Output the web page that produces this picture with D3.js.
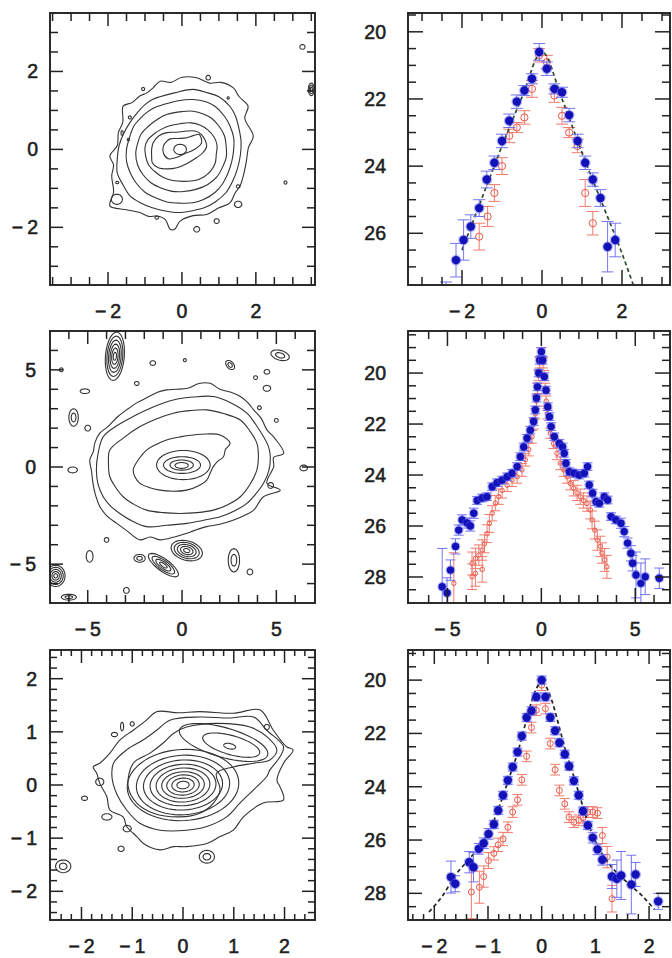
<!DOCTYPE html>
<html><head><meta charset="utf-8">
<script src="https://cdn.jsdelivr.net/npm/d3@7/dist/d3.min.js"></script>
<style>
body{margin:0;background:#fff}
svg{display:block}
text{font-family:"Liberation Sans",Arial,sans-serif;font-size:19.5px;fill:#1e1e1e;stroke:#1e1e1e;stroke-width:0.55}
</style></head>
<body><svg id="c" width="672" height="958"></svg>
<script>
// ================= DATA =================
// ---- tick labels ----
const mapTicksA = [-2, 0, 2];
const mapTicksB = [-5, 0, 5];
const mapTicksC = [-2, -1, 0, 1, 2];
const profXTicksA = [-2, 0, 2];
const profXTicksB = [-5, 0, 5];
const profXTicksC = [-2, -1, 0, 1, 2];
const profYTicksA = [20, 22, 24, 26];
const profYTicksB = [20, 22, 24, 26, 28];
const profYTicksC = [20, 22, 24, 26, 28];

// ---- galaxy A (top) isophotes, [x, y] ----
const galA_contours = [
 [[-0.59,1.75],[-0.3,1.72],[0.0,1.85],[0.4,1.84],[0.75,1.7],[1.05,1.72],[1.39,1.58],[1.55,1.35],[1.79,1.11],[1.7,0.8],[1.93,0.34],[1.8,0.05],[1.75,-0.26],[1.68,-0.6],[1.57,-0.94],[1.45,-1.1],[1.3,-1.37],[1.0,-1.5],[0.67,-1.67],[0.3,-1.7],[-0.05,-1.84],[-0.2,-2.05],[-0.32,-2.05],[-0.45,-1.8],[-0.68,-1.71],[-0.9,-1.72],[-1.14,-1.62],[-1.5,-1.55],[-1.95,-1.45],[-1.85,-1.1],[-1.9,-0.68],[-1.85,-0.4],[-1.95,-0.17],[-1.75,0.1],[-1.72,0.43],[-1.6,0.7],[-1.59,1.11],[-1.35,1.2],[-1.14,1.37],[-0.95,1.45],[-0.78,1.58]],
 [[-0.6,1.35],[-0.2,1.45],[0.3,1.54],[0.7,1.45],[1.0,1.35],[1.3,1.1],[1.45,0.85],[1.55,0.5],[1.6,0.2],[1.58,-0.15],[1.5,-0.5],[1.38,-0.8],[1.2,-1.1],[0.9,-1.35],[0.6,-1.5],[0.25,-1.58],[-0.1,-1.62],[-0.45,-1.58],[-0.8,-1.5],[-1.1,-1.38],[-1.4,-1.2],[-1.6,-0.9],[-1.75,-0.6],[-1.75,-0.25],[-1.7,0.1],[-1.58,0.4],[-1.4,0.7],[-1.2,0.95],[-1.0,1.15],[-0.8,1.28]],
 [[-0.5,1.15],[-0.1,1.25],[0.3,1.28],[0.65,1.22],[0.9,1.1],[1.15,0.85],[1.3,0.6],[1.4,0.3],[1.4,0.0],[1.35,-0.3],[1.25,-0.6],[1.1,-0.88],[0.9,-1.1],[0.6,-1.28],[0.3,-1.37],[-0.05,-1.38],[-0.4,-1.35],[-0.7,-1.25],[-1.0,-1.1],[-1.25,-0.85],[-1.4,-0.6],[-1.5,-0.3],[-1.5,0.0],[-1.42,0.3],[-1.3,0.6],[-1.1,0.82],[-0.95,0.95],[-0.75,1.07]],
 [[-0.4,0.9],[0.0,0.97],[0.3,0.98],[0.6,0.9],[0.8,0.8],[1.0,0.6],[1.15,0.35],[1.2,0.05],[1.2,-0.2],[1.1,-0.45],[0.95,-0.7],[0.7,-0.9],[0.4,-1.02],[0.05,-1.08],[-0.3,-1.07],[-0.6,-0.98],[-0.85,-0.85],[-1.05,-0.65],[-1.2,-0.4],[-1.25,-0.1],[-1.2,0.15],[-1.1,0.4],[-0.9,0.6],[-0.65,0.78]],
 [[-0.35,0.6],[-0.05,0.66],[0.25,0.68],[0.5,0.62],[0.7,0.5],[0.88,0.3],[0.95,0.1],[0.93,-0.12],[0.9,-0.35],[0.78,-0.55],[0.6,-0.7],[0.35,-0.8],[0.05,-0.82],[-0.25,-0.8],[-0.5,-0.72],[-0.72,-0.58],[-0.9,-0.4],[-0.98,-0.18],[-1.0,0.05],[-0.92,0.25],[-0.75,0.4],[-0.55,0.52]],
 [[-0.78,0.17],[-0.62,0.35],[-0.41,0.43],[-0.15,0.44],[0.13,0.47],[0.35,0.47],[0.53,0.38],[0.67,0.09],[0.57,-0.08],[0.4,-0.21],[0.14,-0.36],[-0.14,-0.47],[-0.4,-0.5],[-0.64,-0.47],[-0.8,-0.35],[-0.82,-0.17],[-0.82,0.0]],
 [[-0.5,0.09],[-0.42,0.2],[-0.32,0.27],[-0.1,0.28],[0.13,0.3],[0.32,0.36],[0.47,0.38],[0.53,0.17],[0.42,0.05],[0.26,-0.04],[0.1,-0.1],[-0.05,-0.17],[-0.2,-0.22],[-0.37,-0.24],[-0.5,-0.1]]
];
// ellipses: [cx, cy, rx, ry, angleDeg]
const galA_ellipses = [[-0.05,0.0,0.17,0.13,0]];
// small sources: [cx, cy, rx, ry, angleDeg, levels]
const galA_blobs = [
 [-1.76,-1.28,0.15,0.13,0,1],[1.52,-1.41,0.1,0.08,0,1],[0.94,-1.84,0.07,0.06,0,1],[0.4,-2.05,0.08,0.07,0,1],
 [0.71,1.84,0.06,0.06,0,1],[3.26,2.63,0.07,0.06,0,1],[-0.68,-1.75,0.05,0.04,0,1],[1.52,-0.95,0.05,0.04,0,1],
 [3.5,1.54,0.08,0.16,0,3],[-1.41,0.82,0.04,0.04,0,1],[-1.75,-0.85,0.04,0.03,0,1],[2.8,-0.85,0.04,0.04,0,1],
 [-1.62,0.42,0.03,0.06,0,1],[-1.45,0.25,0.03,0.03,0,1],[1.25,1.32,0.03,0.03,0,1],[-1.05,1.55,0.04,0.04,0,1]
];

// ---- galaxy B (middle) ----
const galB_contours = [
 [[-4.63,1.22],[-4.36,1.74],[-3.9,2.1],[-3.4,2.6],[-2.94,2.94],[-2.4,3.3],[-1.8,3.6],[-1.3,3.85],[-0.82,3.97],[-0.3,4.0],[0.3,4.05],[0.9,4.3],[1.49,4.31],[2.0,4.0],[2.6,3.85],[3.09,3.63],[3.5,3.3],[3.8,2.94],[4.2,2.5],[4.5,1.91],[4.9,1.5],[5.39,0.7],[4.86,0.5],[4.86,0.02],[4.5,-0.84],[5.21,-1.19],[4.32,-1.53],[3.8,-2.22],[3.3,-2.5],[2.74,-2.73],[2.0,-2.95],[1.31,-3.07],[0.7,-3.25],[0.25,-3.41],[-0.4,-3.6],[-1.17,-3.75],[-1.7,-3.6],[-2.23,-3.75],[-2.9,-3.3],[-3.48,-2.89],[-4.0,-2.5],[-4.36,-2.03],[-4.6,-1.4],[-4.72,-0.84],[-4.8,-0.2],[-4.89,0.36],[-4.7,0.8]],
 [[-4.18,1.56],[-3.5,2.1],[-2.59,2.6],[-1.5,3.1],[-0.46,3.45],[0.6,3.6],[1.66,3.63],[2.6,3.3],[3.44,2.77],[3.9,2.2],[4.32,1.56],[4.6,1.0],[4.68,0.53],[4.6,-0.2],[4.32,-0.84],[3.9,-1.4],[3.44,-1.87],[2.8,-2.25],[2.02,-2.56],[1.1,-2.75],[0.25,-2.9],[-0.8,-3.0],[-1.88,-3.07],[-2.6,-2.8],[-3.3,-2.39],[-3.8,-2.0],[-4.18,-1.53],[-4.45,-0.9],[-4.54,-0.15],[-4.45,0.7]],
 [[-3.83,0.87],[-3.1,1.5],[-2.23,2.08],[-1.3,2.5],[-0.46,2.77],[0.4,2.9],[1.31,2.94],[2.2,2.75],[3.09,2.42],[3.6,1.85],[3.97,1.22],[4.05,0.5],[3.97,-0.15],[3.6,-0.9],[3.09,-1.53],[2.4,-1.95],[1.66,-2.22],[0.8,-2.35],[-0.11,-2.39],[-1.0,-2.35],[-1.88,-2.22],[-2.5,-1.95],[-3.12,-1.53],[-3.55,-1.0],[-3.83,-0.5],[-3.9,0.2]],
 [[-2.59,-0.15],[-2.3,0.4],[-1.88,0.87],[-1.4,1.15],[-0.82,1.39],[-0.1,1.55],[0.6,1.65],[1.3,1.7],[2.02,1.65],[2.55,1.22],[2.3,0.9],[2.2,0.53],[1.9,0.3],[1.66,0.02],[1.5,-0.3],[1.31,-0.67],[0.8,-1.0],[0.25,-1.19],[-0.5,-1.25],[-1.17,-1.19],[-1.75,-1.05],[-2.23,-0.84],[-2.5,-0.5]]
];
const galB_ellipses = [[0.07,0.1,1.42,0.75,0],[0.0,0.1,0.98,0.43,0],[-0.02,0.1,0.62,0.26,0],[-0.02,0.08,0.35,0.15,0]];
const galB_blobs = [
 [-3.56,5.7,0.5,1.25,-5,6],[0.25,-4.3,0.85,0.5,-15,5],[-0.99,-5.05,0.95,0.32,-35,4],[-6.7,-5.6,0.5,0.55,0,5],
 [5.2,5.75,0.5,0.25,-15,2],[2.55,5.25,0.28,0.18,-45,2],[2.75,-4.8,0.3,0.6,0,2],[-5.75,2.55,0.25,0.45,0,2],
 [-2.25,-4.7,0.3,0.2,0,2],[-4.9,-4.6,0.18,0.3,0,1],[4.5,4.05,0.2,0.15,0,1],[4.5,4.9,0.15,0.12,0,1],
 [-5.8,-0.15,0.25,0.15,0,1],[-2.95,-6.35,0.15,0.15,0,1],[6.45,-0.05,0.2,0.15,0,1],[3.6,-5.4,0.15,0.15,0,1],
 [-1.55,5.35,0.15,0.12,0,1],[-5.15,3.9,0.25,0.12,0,1],[-5.0,2.0,0.15,0.15,0,1],[4.7,-0.95,0.15,0.15,0,1],
 [-4.0,-3.75,0.12,0.12,0,1],[5.0,2.4,0.1,0.1,0,1],[-6.4,5.0,0.1,0.1,0,1],[0.15,5.5,0.08,0.08,0,1],
 [-2.4,4.3,0.12,0.1,0,1],[3.9,4.6,0.1,0.1,0,1],[-6.0,-6.7,0.4,0.15,0,2],[4.1,3.05,0.1,0.1,0,1]
];

// ---- galaxy C (bottom) ----
const galC_contours = [
 [[-1.77,0.34],[-1.64,0.41],[-1.44,0.6],[-1.24,0.85],[-0.98,1.03],[-0.72,1.22],[-0.52,1.38],[-0.1,1.36],[0.33,1.38],[0.99,1.35],[1.52,1.41],[1.78,1.03],[2.04,0.72],[2.17,0.66],[1.98,0.41],[1.85,0.09],[1.91,-0.03],[1.98,-0.28],[1.58,-0.34],[1.19,-0.6],[0.99,-0.85],[0.73,-0.97],[0.47,-1.1],[0.07,-1.16],[-0.19,-1.16],[-0.45,-1.22],[-0.78,-1.1],[-0.91,-0.97],[-1.11,-0.78],[-1.18,-0.6],[-1.44,-0.47],[-1.5,-0.22],[-1.64,0.03],[-1.7,0.22]],
 [[-1.37,0.41],[-1.11,0.66],[-0.78,0.85],[-0.52,1.03],[-0.26,1.22],[0.33,1.28],[0.9,1.26],[1.39,1.28],[1.65,1.03],[1.98,0.72],[1.91,0.53],[1.71,0.28],[1.65,0.16],[1.39,-0.09],[1.12,-0.34],[0.86,-0.6],[0.47,-0.78],[0.07,-0.85],[-0.45,-0.85],[-0.85,-0.72],[-1.11,-0.47],[-1.31,-0.16],[-1.4,0.16]],
 [[-0.98,0.41],[-0.65,0.6],[-0.39,0.79],[-0.19,0.97],[0.07,1.09],[0.66,1.16],[1.32,1.09],[1.65,0.91],[1.85,0.66],[1.71,0.47],[1.39,0.41],[0.99,0.34],[0.66,0.22],[0.73,-0.09],[0.6,-0.34],[0.33,-0.53],[-0.06,-0.6],[-0.58,-0.53],[-0.91,-0.34],[-1.08,-0.03]]
];
const galC_ellipses = [
 [0,0,0.12,0.07,3],[0,0,0.22,0.13,3],[0,0,0.32,0.19,3],[0,0,0.42,0.25,3],[0,0,0.53,0.32,3],
 [0,0,0.65,0.39,3],[0,0,0.78,0.47,3],[0,0,0.92,0.56,3],[0,0,1.1,0.67,3],
 [0.92,0.73,0.12,0.05,-12],[0.95,0.75,0.58,0.18,-15],[0.8,0.8,0.9,0.28,-15]
];
const galC_blobs = [
 [0.47,-1.35,0.15,0.12,0,2],[-2.36,-1.53,0.15,0.12,0,2],[-1.64,0.06,0.08,0.07,0,1],[-1.94,-0.25,0.06,0.04,0,1],
 [-1.5,-0.6,0.1,0.06,0,1],[-1.1,-0.82,0.08,0.06,0,1],[1.65,1.09,0.05,0.05,0,1],[-1.22,-1.2,0.06,0.05,0,1],
 [-1.2,1.1,0.03,0.08,0,1],[-1.35,0.95,0.06,0.04,0,1],[-1.0,1.15,0.04,0.04,0,1]
];

// ---- surface brightness profiles: [r, mu, err] ----
const profA_blue = [[-2.4,27.9,0.45],[-2.15,26.8,0.5],[-1.96,26.2,0.6],[-1.78,25.8,0.35],[-1.57,25.25,0.25],[-1.38,24.4,0.25],[-1.19,23.9,0.2],[-1.0,23.25,0.2],[-0.82,22.65,0.2],[-0.63,22.08,0.2],[-0.44,21.75,0.15],[-0.25,21.4,0.15],[-0.07,20.6,0.25],[0.12,21.1,0.2],[0.31,21.7,0.15],[0.5,21.8,0.15],[0.68,22.48,0.2],[0.89,23.25,0.2],[1.08,23.9,0.2],[1.27,24.4,0.2],[1.46,24.95,0.25],[1.64,26.4,0.75],[1.83,26.2,0.5]];
const profA_red = [[-1.57,26.1,0.4],[-1.36,25.5,0.3],[-1.19,24.8,0.25],[-1.0,24.0,0.25],[-0.82,23.1,0.2],[-0.63,22.85,0.15],[-0.44,22.55,0.2],[-0.25,21.7,0.25],[-0.07,20.7,0.2],[0.12,20.9,0.2],[0.31,21.9,0.2],[0.5,22.5,0.25],[0.68,23.0,0.15],[0.89,23.4,0.2],[1.08,24.8,0.4],[1.27,25.7,0.35]];
const profA_model = [[-2.0,26.5],[-1.5,24.95],[-1.0,23.4],[-0.5,21.95],[0,20.6],[0.5,22.0],[1.0,23.6],[1.5,25.1],[2.0,26.6],[2.3,27.6]];

const profB_blue = [[-5.28,28.38,1.5],[-5.02,28.63,0.6],[-4.84,27.73,0.4],[-4.57,26.8,0.3],[-4.4,26.16,0.2],[-4.22,25.76,0.2],[-3.95,25.88,0.2],[-3.78,26.0,0.2],[-3.6,25.5,0.2],[-3.42,25.0,0.15],[-3.15,24.9,0.15],[-2.89,24.85,0.15],[-2.62,24.46,0.15],[-2.36,24.3,0.15],[-2.09,24.2,0.15],[-1.82,24.07,0.15],[-1.56,23.93,0.15],[-1.29,23.67,0.15],[-1.12,23.28,0.15],[-0.94,22.9,0.15],[-0.76,22.56,0.15],[-0.59,22.24,0.15],[-0.41,21.9,0.15],[-0.32,21.45,0.15],[-0.26,20.98,0.15],[-0.21,20.54,0.15],[-0.14,20.0,0.15],[-0.09,19.5,0.15],[0.0,19.16,0.15],[0.07,19.5,0.15],[0.16,20.14,0.15],[0.25,20.67,0.15],[0.34,21.32,0.15],[0.43,21.71,0.15],[0.52,22.1,0.15],[0.69,22.5,0.15],[0.96,22.76,0.15],[1.13,22.9,0.15],[1.22,23.15,0.15],[1.31,23.54,0.15],[1.49,23.87,0.15],[1.76,23.93,0.15],[2.02,24.0,0.15],[2.29,23.93,0.15],[2.46,23.67,0.15],[2.55,24.39,0.15],[2.73,24.71,0.15],[2.91,25.05,0.15],[3.09,25.11,0.15],[3.35,24.85,0.15],[3.53,24.98,0.15],[3.71,25.63,0.15],[3.97,25.76,0.15],[4.24,25.89,0.2],[4.41,26.22,0.2],[4.59,26.67,0.2],[4.77,27.07,0.3],[4.86,27.46,0.3],[5.04,27.92,0.9],[5.3,28.25,0.8],[5.53,27.99,0.7],[6.28,28.05,0.4]];
const profB_red = [[0.0,19.2,0.2],[-0.09,19.6,0.2],[0.09,19.6,0.2],[-0.15,20.1,0.2],[0.15,20.1,0.2],[-0.2,20.6,0.2],[0.2,20.6,0.2],[-0.26,21.1,0.2],[0.26,21.1,0.2],[-0.32,21.6,0.2],[0.32,21.6,0.2],[-0.41,22.0,0.2],[-0.5,22.5,0.25],[-0.67,23.0,0.25],[-0.85,23.4,0.25],[-1.03,23.8,0.25],[-1.29,24.07,0.25],[-1.56,24.2,0.25],[-1.82,24.4,0.25],[-2.09,24.6,0.3],[-2.27,24.85,0.3],[-2.45,25.1,0.3],[-2.62,25.5,0.3],[-2.77,25.9,0.35],[-2.89,26.3,0.35],[-3.03,26.7,0.35],[-3.15,26.94,0.4],[-3.33,27.14,0.4],[-3.51,27.27,0.4],[-3.69,27.47,0.45],[-3.51,27.86,0.5],[-3.69,27.99,0.5],[-3.15,27.7,0.5],[-4.66,28.25,1.2],[0.48,22.36,0.2],[0.65,22.76,0.2],[0.83,23.15,0.25],[1.01,23.54,0.25],[1.19,23.8,0.25],[1.37,24.07,0.25],[1.54,24.33,0.25],[1.72,24.52,0.3],[1.9,24.7,0.3],[2.07,24.85,0.3],[2.25,25.0,0.3],[2.43,25.12,0.3],[2.61,25.37,0.35],[2.7,25.76,0.35],[2.84,26.16,0.35],[2.98,26.55,0.4],[3.14,26.8,0.4],[3.23,27.06,0.4],[3.37,27.33,0.45],[3.49,27.6,0.45]];

const profC_blue = [[-1.69,27.39,0.6],[-1.61,27.64,0.3],[-1.35,26.83,0.4],[-1.27,27.02,0.55],[-1.17,26.33,0.2],[-1.08,26.12,0.2],[-0.99,25.77,0.2],[-0.89,25.41,0.15],[-0.81,24.89,0.15],[-0.72,24.32,0.15],[-0.63,23.76,0.15],[-0.54,23.26,0.15],[-0.45,22.7,0.15],[-0.37,22.1,0.15],[-0.28,21.4,0.15],[-0.19,21.15,0.15],[-0.1,20.63,0.15],[0.0,20.0,0.15],[0.07,20.63,0.15],[0.16,21.4,0.15],[0.25,21.9,0.15],[0.33,22.35,0.15],[0.43,22.78,0.15],[0.51,23.23,0.15],[0.6,23.78,0.15],[0.69,24.32,0.15],[0.77,24.91,0.15],[0.86,25.45,0.15],[0.95,25.91,0.2],[1.04,26.35,0.2],[1.13,26.74,0.2],[1.31,27.37,0.45],[1.4,27.45,0.7],[1.48,27.33,0.9],[1.67,27.67,1.1],[1.75,27.29,0.45],[2.17,28.3,0.3]];
const profC_red = [[-1.31,27.95,1.0],[-1.16,27.77,0.6],[-1.08,27.37,0.4],[-0.99,26.77,0.3],[-0.89,26.5,0.25],[-0.81,26.18,0.25],[-0.72,25.96,0.25],[-0.63,25.52,0.2],[-0.54,24.95,0.2],[-0.45,24.49,0.2],[-0.37,23.74,0.2],[-0.28,22.86,0.2],[-0.19,21.78,0.2],[-0.1,21.13,0.2],[0.0,20.19,0.2],[0.07,21.07,0.2],[0.16,22.38,0.2],[0.25,23.36,0.2],[0.33,24.14,0.2],[0.43,24.64,0.2],[0.51,25.14,0.2],[0.6,25.33,0.2],[0.69,25.26,0.2],[0.77,25.16,0.2],[0.86,24.95,0.2],[0.95,24.95,0.2],[1.04,24.99,0.2],[1.13,25.83,0.3],[1.22,26.64,0.4],[1.31,28.2,0.5]];
const profC_model = [[-2.1,28.7],[-1.85,28.1],[-1.6,27.3],[-1.3,26.6],[-1.0,25.75],[-0.5,23.05],[0,20.1],[0.5,23.0],[1.0,26.05],[1.3,27.0],[1.6,27.6],[1.85,28.05],[2.1,28.6]];

// ================= DRAWING =================
const svg = d3.select("#c");
const defs = svg.append("defs");
let clipId = 0;

function makeFrame(cfg) {
  const x = d3.scaleLinear().domain(cfg.xDom).range([cfg.x0, cfg.x1]);
  const y = d3.scaleLinear().domain(cfg.yDom).range(cfg.yInvert ? [cfg.y0, cfg.y1] : [cfg.y1, cfg.y0]);
  const id = "clip" + (clipId++);
  defs.append("clipPath").attr("id", id).append("rect")
    .attr("x", cfg.x0).attr("y", cfg.y0).attr("width", cfg.x1 - cfg.x0).attr("height", cfg.y1 - cfg.y0);
  const g = svg.append("g");
  const inner = g.append("g").attr("clip-path", `url(#${id})`);
  return {x, y, g, inner, cfg};
}

function drawAxes(P, xLabels, yLabels, xMinor, yMinor, labelGap) {
  const {x, y, g, cfg} = P;
  const tg = g.append("g").attr("stroke", "#222").attr("stroke-width", 1.5);
  const eps = 1e-6;
  const isMajor = (v, list) => list.some(m => Math.abs(m - v) < 1e-6);
  const xd = x.domain(), yd = y.domain();
  const xs = d3.range(Math.ceil(Math.min(...xd) / xMinor - eps) * xMinor, Math.max(...xd) + eps, xMinor);
  const ys = d3.range(Math.ceil(Math.min(...yd) / yMinor - eps) * yMinor, Math.max(...yd) + eps, yMinor);
  xs.forEach(v => {
    const L = isMajor(v, xLabels) ? cfg.majLen : cfg.minLenX;
    const px = x(v);
    if (px < cfg.x0 + 2 || px > cfg.x1 - 1) return;
    tg.append("line").attr("x1", px).attr("x2", px).attr("y1", cfg.y1).attr("y2", cfg.y1 - L);
    tg.append("line").attr("x1", px).attr("x2", px).attr("y1", cfg.y0).attr("y2", cfg.y0 + L);
  });
  ys.forEach(v => {
    const L = isMajor(v, yLabels) ? cfg.majLen : cfg.minLenY;
    const py = y(v);
    if (py < cfg.y0 + 2 || py > cfg.y1 - 2) return;
    tg.append("line").attr("x1", cfg.x0).attr("x2", cfg.x0 + L).attr("y1", py).attr("y2", py);
    tg.append("line").attr("x1", cfg.x1).attr("x2", cfg.x1 - L).attr("y1", py).attr("y2", py);
  });
  g.append("rect").attr("x", cfg.x0).attr("y", cfg.y0)
    .attr("width", cfg.x1 - cfg.x0).attr("height", cfg.y1 - cfg.y0)
    .attr("fill", "none").attr("stroke", "#222").attr("stroke-width", 1.9);
  const fmt = v => (v < 0 ? "\u2212\u2009" : "") + Math.abs(v);
  g.selectAll(null).data(xLabels).enter().append("text")
    .attr("x", d => x(d)).attr("y", cfg.y1 + 33).attr("text-anchor", "middle").text(fmt);
  g.selectAll(null).data(yLabels).enter().append("text")
    .attr("x", cfg.x0 - labelGap).attr("y", d => y(d)).attr("dy", "0.36em")
    .attr("text-anchor", "end").text(fmt);
}

function ellipsePts(cx, cy, rx, ry, ang, n) {
  const a = ang * Math.PI / 180, pts = [];
  for (let i = 0; i < n; i++) {
    const t = 2 * Math.PI * i / n, ex = rx * Math.cos(t), ey = ry * Math.sin(t);
    pts.push([cx + ex * Math.cos(a) - ey * Math.sin(a), cy + ex * Math.sin(a) + ey * Math.cos(a)]);
  }
  return pts;
}

function drawMap(P, contours, ellipses, blobs) {
  const {x, y, inner} = P;
  const lineC = d3.line().x(d => x(d[0])).y(d => y(d[1])).curve(d3.curveCatmullRomClosed.alpha(0.5));
  const lineE = d3.line().x(d => x(d[0])).y(d => y(d[1])).curve(d3.curveLinearClosed);
  const cg = inner.append("g").attr("fill", "none").attr("stroke", "#333").attr("stroke-width", 1.1);
  contours.forEach(c => cg.append("path").attr("d", lineC(c)));
  ellipses.forEach(e => cg.append("path").attr("d", lineE(ellipsePts(e[0], e[1], e[2], e[3], e[4], 60))));
  blobs.forEach(b => {
    for (let k = 0; k < b[5]; k++) {
      const f = (k + 1) / b[5];
      cg.append("path").attr("d", lineE(ellipsePts(b[0], b[1], b[2] * f, b[3] * f, b[4], 28)));
    }
  });
}

function drawProfile(P, blue, red, model, st) {
  const {x, y, inner} = P;
  const rg = inner.append("g");
  red.forEach(d => {
    const px = x(d[0]), y1 = y(d[1] - d[2]), y2 = y(d[1] + d[2]);
    rg.append("line").attr("x1", px).attr("x2", px).attr("y1", y1).attr("y2", y2).attr("stroke", "#f27a6c").attr("stroke-width", 1);
    [y1, y2].forEach(yy => rg.append("line").attr("x1", px - st.capR).attr("x2", px + st.capR).attr("y1", yy).attr("y2", yy).attr("stroke", "#f27a6c").attr("stroke-width", 1));
    rg.append("circle").attr("cx", px).attr("cy", y(d[1])).attr("r", st.rr).attr("fill", "none").attr("stroke", "#e8584a").attr("stroke-width", 1);
  });
  if (model) {
    const ml = d3.line().x(d => x(d[0])).y(d => y(d[1])).curve(d3.curveMonotoneX);
    inner.append("path").attr("d", ml(model)).attr("fill", "none")
      .attr("stroke", st.modelColor).attr("stroke-width", 1.7).attr("stroke-dasharray", "4,3");
  }
  const bg = inner.append("g");
  blue.forEach(d => {
    const px = x(d[0]), y1 = y(d[1] - d[2]), y2 = y(d[1] + d[2]);
    bg.append("line").attr("x1", px).attr("x2", px).attr("y1", y1).attr("y2", y2).attr("stroke", "#7474f2").attr("stroke-width", 1);
    [y1, y2].forEach(yy => bg.append("line").attr("x1", px - st.capB).attr("x2", px + st.capB).attr("y1", yy).attr("y2", yy).attr("stroke", "#7474f2").attr("stroke-width", 1));
  });
  blue.forEach(d => {
    bg.append("circle").attr("cx", x(d[0])).attr("cy", y(d[1])).attr("r", st.br + 1.2).attr("fill", "#5a5af0").attr("opacity", 0.45);
    bg.append("circle").attr("cx", x(d[0])).attr("cy", y(d[1])).attr("r", st.br).attr("fill", "#1212b8");
  });
}

// layout
const LX0 = 50, LX1 = 315, RX0 = 408, RX1 = 670;
const rows = [[13, 285], [331, 603], [650, 920]];

// Row 1
const m1 = makeFrame({x0: LX0, x1: LX1, y0: rows[0][0], y1: rows[0][1], xDom: [-3.57, 3.6], yDom: [-3.48, 3.5], majLen: 13, minLenX: 8, minLenY: 8});
drawMap(m1, galA_contours, galA_ellipses, galA_blobs);
drawAxes(m1, mapTicksA, mapTicksA, 0.5, 0.5, 12);

const p1 = makeFrame({x0: RX0, x1: RX1, y0: rows[0][0], y1: rows[0][1], xDom: [-3.35, 3.2], yDom: [19.44, 27.54], yInvert: true, majLen: 15, minLenX: 8, minLenY: 8});
drawProfile(p1, profA_blue, profA_red, profA_model, {capR: 6, capB: 6, rr: 3.6, br: 4.2, modelColor: "#2d4a2d"});
drawAxes(p1, profXTicksA, profYTicksA, 0.5, 0.5, 22);

// Row 2
const m2 = makeFrame({x0: LX0, x1: LX1, y0: rows[1][0], y1: rows[1][1], xDom: [-7, 7.05], yDom: [-7, 7], majLen: 13, minLenX: 8, minLenY: 8});
drawMap(m2, galB_contours, galB_ellipses, galB_blobs);
drawAxes(m2, mapTicksB, mapTicksB, 1, 1, 14);

const p2 = makeFrame({x0: RX0, x1: RX1, y0: rows[1][0], y1: rows[1][1], xDom: [-7.1, 6.85], yDom: [18.35, 29.02], yInvert: true, majLen: 15, minLenX: 8, minLenY: 8});
drawProfile(p2, profB_blue, profB_red, null, {capR: 5, capB: 5, rr: 2.2, br: 3.7, modelColor: "#222"});
drawAxes(p2, profXTicksB, profYTicksB, 1, 0.5, 22);

// Row 3
const m3 = makeFrame({x0: LX0, x1: LX1, y0: rows[2][0], y1: rows[2][1], xDom: [-2.62, 2.6], yDom: [-2.54, 2.54], majLen: 13, minLenX: 6, minLenY: 7});
drawMap(m3, galC_contours, galC_ellipses, galC_blobs);
drawAxes(m3, mapTicksC, mapTicksC, 0.2, 0.2, 13);

const p3 = makeFrame({x0: RX0, x1: RX1, y0: rows[2][0], y1: rows[2][1], xDom: [-2.49, 2.39], yDom: [18.87, 29.0], yInvert: true, majLen: 14, minLenX: 6, minLenY: 8});
drawProfile(p3, profC_blue, profC_red, profC_model, {capR: 5, capB: 5, rr: 3, br: 4.2, modelColor: "#222"});
drawAxes(p3, profXTicksC, profYTicksC, 0.2, 0.5, 22);
</script></body></html>
